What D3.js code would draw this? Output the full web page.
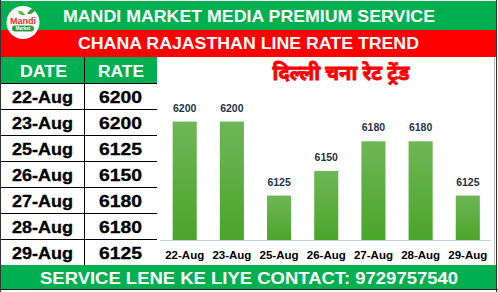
<!DOCTYPE html>
<html><head><meta charset="utf-8">
<script src="https://cdn.jsdelivr.net/npm/d3@7"></script>
<style>html,body{margin:0;padding:0;background:#fff;}svg{display:block;}</style>
</head><body>
<script>
const dates = ["22-Aug","23-Aug","25-Aug","26-Aug","27-Aug","28-Aug","29-Aug"];
const rates = [6200,6200,6125,6150,6180,6180,6125];
const headerTitle = "MANDI MARKET MEDIA PREMIUM SERVICE";
const subTitle = "CHANA RAJASTHAN LINE RATE TREND";
const chartTitle = "दिल्ली चना रेट ट्रेंड";
const footer = "SERVICE LENE KE LIYE CONTACT: 9729757540";
const colHeads = ["DATE","RATE"];

const W=498,H=292;
const svg=d3.select("body").append("svg").attr("width",W).attr("height",H);
const defs=svg.append("defs");
const g=defs.append("linearGradient").attr("id","bg").attr("x1",0).attr("y1",0).attr("x2",0).attr("y2",1);
g.append("stop").attr("offset","0%").attr("stop-color","#6fb655");
g.append("stop").attr("offset","100%").attr("stop-color","#4aa52b");

const F="'Liberation Sans', Arial, sans-serif";
svg.append("rect").attr("width",W).attr("height",H).attr("fill","#fff");
// bands
svg.append("rect").attr("x",1).attr("y",1).attr("width",W-3).attr("height",29).attr("fill","#00b050");
svg.append("rect").attr("x",1).attr("y",30).attr("width",W-3).attr("height",27).attr("fill","#ff0000");
svg.append("text").attr("x",249).attr("y",21.5).attr("text-anchor","middle").attr("font-family",F)
  .attr("font-weight","bold").attr("font-size",16.5).attr("fill","#fff")
  .attr("textLength",372).attr("lengthAdjust","spacingAndGlyphs").text(headerTitle);
svg.append("text").attr("x",248.5).attr("y",49).attr("text-anchor","middle").attr("font-family",F)
  .attr("font-weight","bold").attr("font-size",16.5).attr("fill","#fff")
  .attr("textLength",341).attr("lengthAdjust","spacingAndGlyphs").text(subTitle);

// logo
const lg=svg.append("g");
lg.append("circle").attr("cx",23).attr("cy",22.5).attr("r",16.5).attr("fill","#fff");
lg.append("path").attr("d","M27,14 q3,-6 8,-5 q-1,6 -8,5z").attr("fill","#3aa035");
lg.append("path").attr("d","M25,15 q-3,-5 -7,-4 q1,5 7,4z").attr("fill","#5cb83c");
lg.append("text").attr("x",23).attr("y",24).attr("text-anchor","middle").attr("font-family",F)
  .attr("font-weight","bold").attr("font-size",9).attr("fill","#e53027").text("Mandi");
lg.append("rect").attr("x",12).attr("y",25.5).attr("width",22).attr("height",6).attr("rx",3).attr("fill","#2f9a3a");
lg.append("text").attr("x",23).attr("y",30.3).attr("text-anchor","middle").attr("font-family",F)
  .attr("font-weight","bold").attr("font-size",4.5).attr("fill","#fff").text("Market");

// table
const rowH=26, tTop=57, hdrBottom=83;
svg.append("rect").attr("x",1).attr("y",tTop).attr("width",156).attr("height",hdrBottom-tTop).attr("fill","#00b050");
svg.append("text").attr("x",43.5).attr("y",76.5).attr("text-anchor","middle").attr("font-family",F)
  .attr("font-weight","bold").attr("font-size",16).attr("fill","#fff")
  .attr("textLength",47).attr("lengthAdjust","spacingAndGlyphs").text(colHeads[0]);
svg.append("text").attr("x",121).attr("y",76.5).attr("text-anchor","middle").attr("font-family",F)
  .attr("font-weight","bold").attr("font-size",16).attr("fill","#fff")
  .attr("textLength",46).attr("lengthAdjust","spacingAndGlyphs").text(colHeads[1]);
dates.forEach((d,i)=>{
  const y0=hdrBottom+i*rowH;
  svg.append("text").attr("x",42.5).attr("y",y0+19.5).attr("text-anchor","middle").attr("font-family",F)
    .attr("font-weight","bold").attr("font-size",16).attr("fill","#000").attr("stroke","#000").attr("stroke-width",0.3)
    .attr("textLength",61).attr("lengthAdjust","spacingAndGlyphs").text(d);
  svg.append("text").attr("x",120.5).attr("y",y0+19.5).attr("text-anchor","middle").attr("font-family",F)
    .attr("font-weight","bold").attr("font-size",16).attr("fill","#000").attr("stroke","#000").attr("stroke-width",0.3)
    .attr("textLength",43).attr("lengthAdjust","spacingAndGlyphs").text(rates[i]);
  svg.append("line").attr("x1",1).attr("x2",157).attr("y1",y0+0.5).attr("y2",y0+0.5).attr("stroke","#000");
});
svg.append("line").attr("x1",84.5).attr("x2",84.5).attr("y1",tTop).attr("y2",265).attr("stroke","#000");
svg.append("line").attr("x1",1).attr("x2",157).attr("y1",265.5).attr("y2",265.5).attr("stroke","#000");

// footer
svg.append("rect").attr("x",1).attr("y",265).attr("width",W-3).attr("height",24).attr("fill","#00b050");
svg.append("text").attr("x",249).attr("y",283.5).attr("text-anchor","middle").attr("font-family",F)
  .attr("font-weight","bold").attr("font-size",16).attr("fill","#fff")
  .attr("textLength",418).attr("lengthAdjust","spacingAndGlyphs").text(footer);

// frame lines
svg.append("line").attr("x1",0.5).attr("x2",0.5).attr("y1",0).attr("y2",H).attr("stroke","#333");
svg.append("line").attr("x1",494.5).attr("x2",494.5).attr("y1",57).attr("y2",265).attr("stroke","#bbb");
svg.append("line").attr("x1",0).attr("x2",W).attr("y1",289.5).attr("y2",289.5).attr("stroke","#222");
svg.append("line").attr("x1",496.5).attr("x2",496.5).attr("y1",0).attr("y2",H).attr("stroke","#333");

// chart
const x=d3.scaleBand().domain(dates).range([161.1,491.4]).paddingInner(0.49).paddingOuter(0.245);
const y=d3.scaleLinear().domain([6080,6220]).range([240,240-140*0.987]);
svg.append("text").attr("x",341).attr("y",80).attr("text-anchor","middle")
  .attr("font-family","'Noto Sans Devanagari','Noto Sans','Lohit Devanagari',sans-serif")
  .attr("font-weight","bold").attr("font-size",20).attr("fill","#ff0000")
  .attr("stroke","#ff0000").attr("stroke-width",0.8).text(chartTitle);
svg.selectAll("rect.bar").data(dates).enter().append("rect").attr("class","bar")
  .attr("x",d=>x(d)).attr("width",x.bandwidth())
  .attr("y",(d,i)=>y(rates[i])).attr("height",(d,i)=>y(6080)-y(rates[i]))
  .attr("fill","url(#bg)");
svg.selectAll("text.val").data(dates).enter().append("text").attr("class","val")
  .attr("x",d=>x(d)+x.bandwidth()/2).attr("y",(d,i)=>y(rates[i])-10)
  .attr("text-anchor","middle").attr("font-family",F).attr("font-weight","bold")
  .attr("font-size",10.5).attr("fill","#263248").text((d,i)=>rates[i]);
const ax=svg.append("g").attr("transform","translate(0,240)").call(d3.axisBottom(x).tickSize(0).tickPadding(11));
ax.select(".domain").attr("stroke","#bcd2ea").attr("d","M160,0.5H491");
ax.selectAll("text").attr("font-family",F).attr("font-weight","bold").attr("font-size",11.5).attr("fill","#000");
</script>
</body></html>
